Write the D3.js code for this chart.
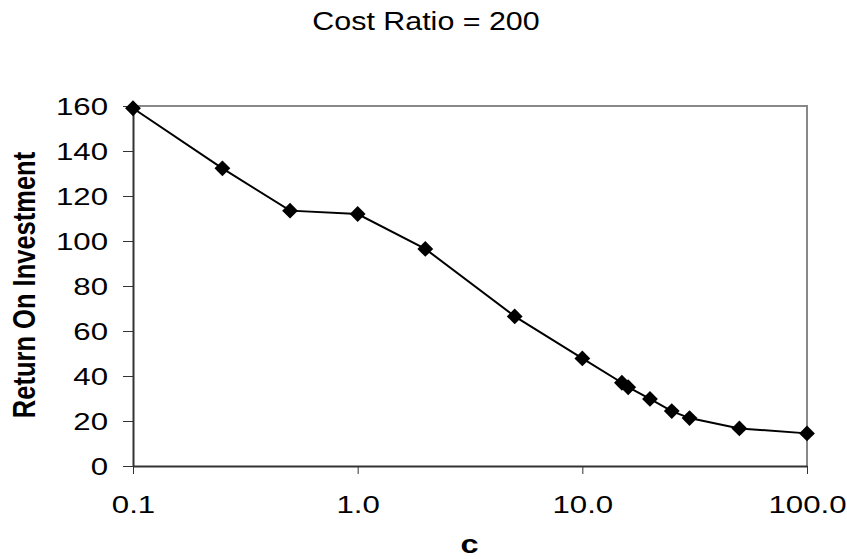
<!DOCTYPE html>
<html>
<head>
<meta charset="utf-8">
<script src="https://cdn.jsdelivr.net/npm/d3@7"></script>
<style>
  body { margin: 0; background: #fff; }
  svg text { font-family: "Liberation Sans", Arial, sans-serif; fill: #000; }
</style>
</head>
<body>
<div id="chart"></div>
<script>
// Data
var cValues = [0.1, 0.25, 0.5, 1, 2, 5, 10, 15, 16, 20, 25, 30, 50, 100];
var roiValues = [159, 132.3, 113.5, 112, 96.5, 66.5, 47.8, 37, 35, 29.8, 24.4, 21.3, 16.7, 14.5];
var xTicks = [0.1, 1, 10, 100];
var yTicks = [0, 20, 40, 60, 80, 100, 120, 140, 160];

(function() {
    // Dimensions of svg
    var svgWidth = 847,
        svgHeight = 559,
        margin = { top: 106, right: 40, bottom: 93, left: 133 },
        width = svgWidth - margin.left - margin.right,
        height = svgHeight - margin.top - margin.bottom;

    var points = cValues.map((c, i) => [c, roiValues[i]]);

    var svg = d3.select("#chart").append("svg")
        .attr("width", svgWidth)
        .attr("height", svgHeight);

    var g = svg.append("g")
        .attr("transform", "translate(" + margin.left + "," + margin.top + ")");

    // Scales
    var x = d3.scaleLog()
        .domain([0.1, 100])
        .range([0, width]);

    var y = d3.scaleLinear()
        .domain([0, 160])
        .range([height, 0]);

    // Plot frame (top and right sides are lighter)
    g.append("path")
        .attr("d", "M0,0H" + width + "V" + height)
        .attr("fill", "none")
        .attr("stroke", "#888")
        .attr("stroke-width", 2);

    // Y axis
    var yAxis = g.append("g")
        .call(d3.axisLeft(y).tickValues(yTicks).tickSize(10).tickSizeOuter(0));
    yAxis.select(".domain").attr("stroke", "#333").attr("stroke-width", 2);
    yAxis.selectAll(".tick line").attr("stroke", "#333");
    yAxis.selectAll(".tick text")
        .attr("x", null)
        .attr("dy", "0.35em")
        .attr("font-size", 24)
        .attr("transform", "translate(-25,0) scale(1.3,1)");

    // X axis
    var xAxis = g.append("g")
        .attr("transform", "translate(0," + height + ")")
        .call(d3.axisBottom(x).tickValues(xTicks).tickFormat(d3.format(".1f")).tickSize(8).tickSizeOuter(0));
    xAxis.select(".domain").attr("stroke", "#333").attr("stroke-width", 2);
    xAxis.selectAll(".tick line").attr("stroke", "#333");
    xAxis.selectAll(".tick text")
        .attr("y", null)
        .attr("dy", null)
        .attr("font-size", 24)
        .attr("transform", "translate(0,47) scale(1.3,1)");

    // Line
    var line = d3.line()
        .x(d => x(d[0]))
        .y(d => y(d[1]));

    g.append("path")
        .datum(points)
        .attr("fill", "none")
        .attr("stroke", "#000")
        .attr("stroke-width", 2)
        .attr("d", line);

    // Diamond markers
    g.selectAll(".dot")
        .data(points)
        .join("path")
            .attr("class", "dot")
            .attr("d", d3.symbol(d3.symbolSquare, 125))
            .attr("fill", "#000")
            .attr("transform", d => "translate(" + x(d[0]) + "," + y(d[1]) + ") rotate(45)");

    // Title
    svg.append("text")
        .attr("transform", "translate(426,30) scale(1.17,1)")
        .attr("text-anchor", "middle")
        .attr("font-size", 26)
        .text("Cost Ratio = 200");

    // X axis label
    svg.append("text")
        .attr("transform", "translate(469.5,553) scale(1.25,1)")
        .attr("text-anchor", "middle")
        .attr("font-size", 26)
        .attr("font-weight", "bold")
        .text("c");

    // Y axis label
    svg.append("text")
        .attr("transform", "translate(35,285) rotate(-90) scale(1,1.2)")
        .attr("text-anchor", "middle")
        .attr("font-size", 25.5)
        .attr("font-weight", "bold")
        .text("Return On Investment");
})();
</script>
</body>
</html>
